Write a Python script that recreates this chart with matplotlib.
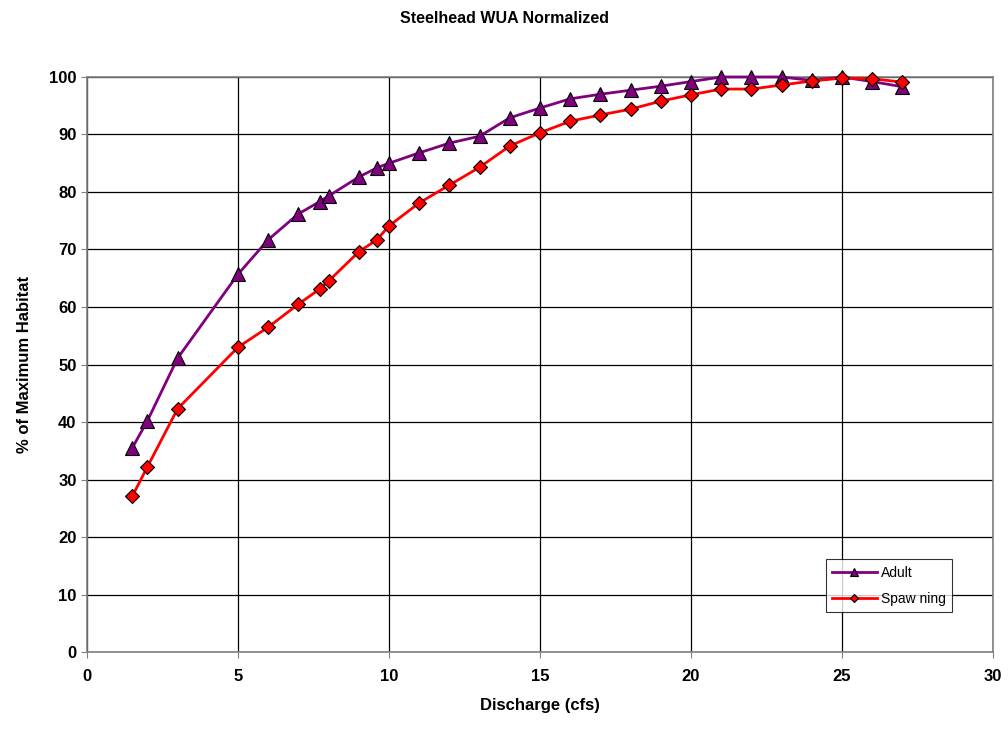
import numpy as np
import matplotlib.pyplot as plt

plt.rcParams['font.family'] = ['Liberation Sans', 'DejaVu Sans']

# discharge (cfs)
discharge = [1.5, 2, 3, 5, 6, 7, 7.7, 8, 9, 9.6, 10, 11, 12, 13, 14,
             15, 16, 17, 18, 19, 20, 21, 22, 23, 24, 25, 26, 27]

adult = [35.5, 40.2, 51.1, 65.7, 71.7, 76.2, 78.3, 79.3, 82.6, 84.2, 85.0,
         86.8, 88.5, 89.7, 92.9, 94.6, 96.2, 97.0, 97.7, 98.4, 99.2, 100.0,
         100.0, 100.0, 99.4, 100.0, 99.2, 98.3]

spawning = [27.1, 32.2, 42.3, 53.0, 56.5, 60.5, 63.1, 64.5, 69.6, 71.7, 74.1,
            78.1, 81.2, 84.3, 88.0, 90.3, 92.3, 93.4, 94.4, 95.8, 96.9, 97.9,
            97.9, 98.6, 99.3, 99.8, 99.7, 99.1]

fig = plt.figure(figsize=(10.08, 7.31), dpi=100)
ax = fig.add_axes([0.0863, 0.108, 0.8988, 0.7867])

ax.plot(discharge, adult, color='#800080', lw=2, marker='^', ms=10,
        mfc='#800080', mec='black', mew=0.8, label='Adult', zorder=3,
        clip_on=False)
ax.plot(discharge, spawning, color='#FF0000', lw=2, marker='D', ms=7.5,
        mfc='#FF0000', mec='black', mew=0.8, label='Spaw ning', zorder=4,
        clip_on=False)

ax.set_xlim(0, 30)
ax.set_ylim(0, 100)
ax.set_xticks(np.arange(0, 31, 5))
ax.set_yticks(np.arange(0, 101, 10))
ax.grid(True, color='black', lw=0.9)
ax.set_axisbelow(True)
for s in ax.spines.values():
    s.set_color('#808080')
    s.set_linewidth(1.2)
ax.tick_params(axis='both', labelsize=12, length=4, color='#808080')
for lab in ax.get_xticklabels() + ax.get_yticklabels():
    lab.set_fontweight('bold')
ax.tick_params(axis='x', pad=8)

ax.set_xlabel('Discharge (cfs)', fontsize=12, fontweight='bold', labelpad=10)
ax.set_ylabel('% of Maximum Habitat', fontsize=12, fontweight='bold', labelpad=12)
fig.suptitle('Steelhead WUA Normalized', fontsize=11.5, fontweight='bold', y=0.985)

leg = ax.legend(loc='lower left', bbox_to_anchor=(0.808, 0.058), fontsize=10,
                frameon=True, fancybox=False, edgecolor='black', borderpad=0.45,
                handlelength=3.2, handletextpad=0.3, labelspacing=0.85,
                markerscale=0.6)
leg.get_frame().set_linewidth(0.8)

fig.savefig('out.png', dpi=100)
